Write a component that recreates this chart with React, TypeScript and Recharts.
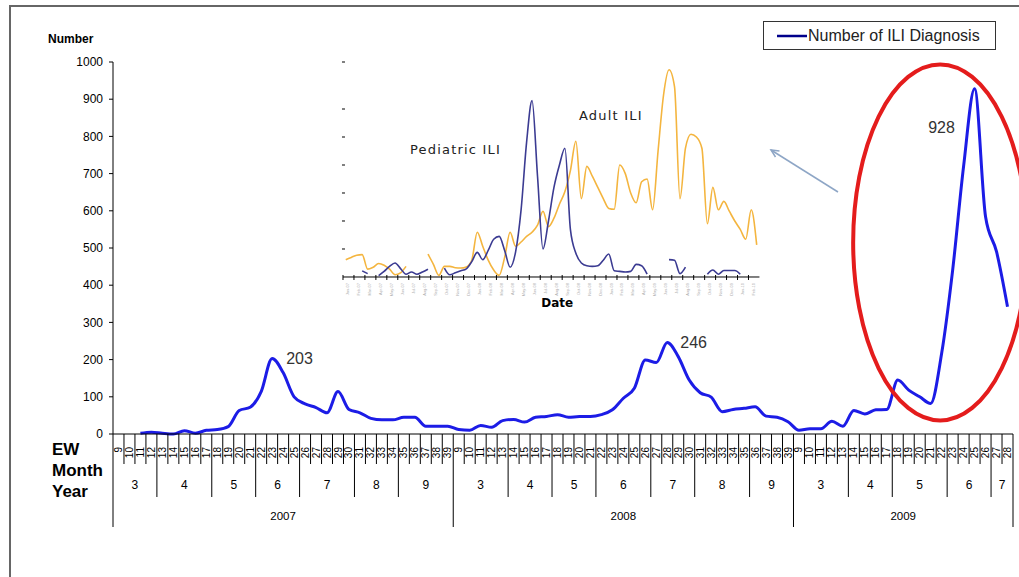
import React from 'react';
import { LineChart, Line, XAxis, YAxis, Legend, LabelList, ReferenceDot } from 'recharts';

// main chart: weekly ILI diagnoses, EW 9-39 (2007, 2008) and EW 9-28 (2009)
const years = ['2007', '2008', '2009'];
const weeks2007 = [9, 10, 11, 12, 13, 14, 15, 16, 17, 18, 19, 20, 21, 22, 23, 24, 25, 26, 27, 28, 29, 30, 31, 32, 33, 34, 35, 36, 37, 38, 39];
const weeks2008 = [9, 10, 11, 12, 13, 14, 15, 16, 17, 18, 19, 20, 21, 22, 23, 24, 25, 26, 27, 28, 29, 30, 31, 32, 33, 34, 35, 36, 37, 38, 39];
const weeks2009 = [9, 10, 11, 12, 13, 14, 15, 16, 17, 18, 19, 20, 21, 22, 23, 24, 25, 26, 27, 28];

const ili2007 = [null, null, 2, 5, 2, 0, 9, 2, 10, 12, 20, 63, 72, 114, 203, 165, 100, 81, 71, 57, 114, 66, 57, 42, 38, 38, 45, 45, 21, 21, 21];
const ili2008 = [12, 10, 23, 18, 36, 39, 32, 45, 47, 52, 45, 47, 47, 52, 65, 96, 123, 199, 192, 246, 208, 145, 111, 99, 60, 66, 69, 73, 48, 45, 33];
const ili2009 = [10, 14, 14, 34, 21, 63, 54, 65, 66, 145, 118, 100, 82, 217, 440, 720, 928, 584, 490, 342];

const months2007 = ['3', '4', '5', '6', '7', '8', '9'];
const monthLen2007 = [4, 5, 4, 4, 5, 4, 5];
const months2008 = ['3', '4', '5', '6', '7', '8', '9'];
const monthLen2008 = [5, 4, 4, 5, 4, 5, 4];
const months2009 = ['3', '4', '5', '6', '7'];
const monthLen2009 = [5, 4, 5, 4, 2];

const yTicks = [0, 100, 200, 300, 400, 500, 600, 700, 800, 900, 1000];

// inset: pediatric vs adult ILI (no scale shown)
const adultIli = [
  0.62, 0.7, 0.78, 0.8, 0.28, 0.35, 0.48, 0.42, 0.28, 0.08,
  0.15, 0.38, null, null, null, 0.82, 0.45, 0.06, 0.38, 0.38,
  0.33, 0.32, 0.36, 0.6, 1.6, 1.1, 0.6, 0.25, 0.06, 0.7,
  1.6, 1.1, 1.25, 1.45, 1.6, 1.85, 2.35, 1.8, 2.1, 2.6,
  3.05, 3.8, 4.85, 2.8, 3.95, 3.6, 3.2, 2.8, 2.45, 2.42,
  4.0, 3.7, 3.0, 2.65, 3.4, 3.5, 2.4, 4.5, 6.5, 7.4,
  6.8, 2.8, 4.6, 5.1, 5.0, 4.6, 1.9, 3.2, 2.4, 2.7,
  2.35, 2.0, 1.7, 1.35, 2.4, 1.15,
];
const pediatricIli = [
  null, null, null, 0.22, 0.12, null, 0.05, 0.2, 0.38, 0.5,
  0.3, 0.1, 0.18, 0.1, 0.18, 0.28, null, null, 0.32, 0.08,
  0.15, 0.22, 0.29, 0.55, 0.88, 0.62, 0.95, 1.35, 1.45, 0.95,
  0.35, 0.9, 2.4, 4.8, 6.3, 3.6, 1.0, 2.0, 3.2, 4.0,
  4.6, 1.7, 0.85, 0.5, 0.4, 0.38, 0.4, 0.6, 0.82, 0.22,
  0.2, 0.18, 0.2, 0.45, 0.4, 0.1, null, null, null, 0.62,
  0.6, 0.12, 0.35, null, null, null, 0.1, 0.25, 0.1, 0.23,
  0.23, 0.23, 0.1, null, null, null,
];
const insetDates = [
  'Jan-07', 'Feb-07', 'Mar-07', 'Apr-07', 'May-07', 'Jun-07', 'Jul-07', 'Aug-07', 'Sep-07', 'Oct-07',
  'Nov-07', 'Dec-07', 'Jan-08', 'Feb-08', 'Mar-08', 'Apr-08', 'May-08', 'Jun-08', 'Jul-08', 'Aug-08',
  'Sep-08', 'Oct-08', 'Nov-08', 'Dec-08', 'Jan-09', 'Feb-09', 'Mar-09', 'Apr-09', 'May-09', 'Jun-09',
  'Jul-09', 'Aug-09', 'Sep-09', 'Oct-09', 'Nov-09', 'Dec-09', 'Jan-10', 'Feb-10',
];
const insetTicks = [1, 2, 3, 4, 5, 6, 7, 8];

type Row = {
  key: string; ew: number; ili: number | null; year: string;
  yearStart: boolean; yearLen: number; monthStart: boolean; month: string; monthLen: number;
};

const seasons = [
  { year: years[0], weeks: weeks2007, ili: ili2007, months: months2007, lens: monthLen2007 },
  { year: years[1], weeks: weeks2008, ili: ili2008, months: months2008, lens: monthLen2008 },
  { year: years[2], weeks: weeks2009, ili: ili2009, months: months2009, lens: monthLen2009 },
];

const data: Row[] = [];
seasons.forEach((s) => {
  let m = 0;
  let start = 0;
  s.weeks.forEach((wk, i) => {
    if (i >= start + s.lens[m]) {
      start += s.lens[m];
      m += 1;
    }
    data.push({
      key: `${s.year}-${wk}`,
      ew: wk,
      ili: s.ili[i],
      year: s.year,
      yearStart: i === 0,
      yearLen: s.weeks.length,
      monthStart: i === start,
      month: s.months[m],
      monthLen: s.lens[m],
    });
  });
});

const insetData = adultIli.map((a, i) => ({ i, adult: a, pediatric: pediatricIli[i] }));

const peakNotes: Record<string, { dx: number; dy: number; anchor: string }> = {
  '2007-23': { dx: 14, dy: 6, anchor: 'start' },
  '2008-28': { dx: 13, dy: 6, anchor: 'start' },
  '2009-25': { dx: -33, dy: 44, anchor: 'middle' },
};

const W = 1019;
const H = 577;
const PLOT_LEFT = 113;
const PLOT_RIGHT = 1013;
const sans = '"Liberation Sans", Arial, sans-serif';

const EwTick = (props: any) => {
  const { x, y, payload } = props;
  const i: number = props.index ?? payload?.index;
  const row = data[i];
  if (!row) return null;
  const band = payload?.offset ? payload.offset * 2 : (PLOT_RIGHT - PLOT_LEFT) / data.length;
  const left = x - band / 2;
  const drop = row.yearStart ? 93 : row.monthStart ? 63 : 30;
  return (
    <g fontFamily={sans} fill="#000">
      <line x1={left} y1={y} x2={left} y2={y + drop} stroke="#000" strokeWidth={1} />
      <text transform={`translate(${x + 3.5},${y + 13}) rotate(-90)`} textAnchor="end" fontSize={10}>
        {row.ew}
      </text>
      {row.monthStart && (
        <text x={left + (row.monthLen * band) / 2} y={y + 55} textAnchor="middle" fontSize={12}>
          {row.month}
        </text>
      )}
      {row.yearStart && (
        <text x={left + (row.yearLen * band) / 2} y={y + 86} textAnchor="middle" fontSize={11.5}>
          {row.year}
        </text>
      )}
      {i === data.length - 1 && (
        <line x1={left + band} y1={y} x2={left + band} y2={y + 93} stroke="#000" strokeWidth={1} />
      )}
    </g>
  );
};

const PeakLabel = (props: any) => {
  const { x, y, value, index } = props;
  const row = data[index];
  const note = row && peakNotes[row.key];
  if (!note || x == null) return null;
  return (
    <text x={x + note.dx} y={y + note.dy} textAnchor={note.anchor} fontSize={16} fontFamily={sans} fill="#333">
      {value}
    </text>
  );
};

const LegendBox = () => (
  <div
    style={{
      border: '1px solid #333',
      height: 27,
      display: 'flex',
      alignItems: 'center',
      background: '#fff',
      fontFamily: sans,
      fontSize: 16,
      color: '#222',
      whiteSpace: 'nowrap',
    }}
  >
    <svg width={44} height={10}>
      <line x1={13} y1={5} x2={43} y2={5} stroke="#00008b" strokeWidth={2.5} />
    </svg>
    <span>Number of ILI Diagnosis</span>
  </div>
);

const InsetXTick = (props: any) => {
  const { x, y, payload } = props;
  const half = payload?.offset ?? 2.74;
  const left = x - half;
  const label = insetDates[Math.floor((payload?.value ?? 0) / 2)] ?? '';
  return (
    <g>
      <line x1={left} y1={y - 2} x2={left} y2={y + 3} stroke="#000" strokeWidth={1} />
      <text
        transform={`translate(${left + 6.5},${y + 6}) rotate(-90)`}
        textAnchor="end"
        fontSize={4}
        fill="#b0b0b0"
        fontFamily={sans}
      >
        {label}
      </text>
    </g>
  );
};

const InsetYTick = (props: any) => {
  const { x, y } = props;
  return <line x1={x - 1} y1={y} x2={x + 2} y2={y} stroke="#000" strokeWidth={1} />;
};

const Inset = () => (
  <div style={{ position: 'absolute', left: 333.26, top: 53.3 }}>
    <LineChart width={430.44} height={258} data={insetData} margin={{ top: 0, right: 4, bottom: 0, left: 0 }}>
      <YAxis
        width={10}
        domain={[0, 8]}
        ticks={insetTicks}
        axisLine={false}
        tickLine={false}
        tickSize={0}
        tickMargin={0}
        tick={<InsetYTick />}
      />
      <XAxis
        dataKey="i"
        scale="band"
        height={34}
        interval={1}
        tickSize={0}
        tickMargin={0}
        tickLine={false}
        axisLine={{ stroke: '#000', strokeWidth: 1 }}
        tick={<InsetXTick />}
        label={{
          value: 'Date',
          position: 'insideBottom',
          offset: 4,
          dx: 6,
          fontSize: 12,
          fontWeight: 'bold',
          fill: '#000',
          fontFamily: '"DejaVu Sans", sans-serif',
        }}
      />
      <Line
        dataKey="adult"
        type="monotone"
        stroke="#f4b53f"
        strokeWidth={1.6}
        dot={false}
        connectNulls={false}
        isAnimationActive={false}
      />
      <Line
        dataKey="pediatric"
        type="monotone"
        stroke="#3b3b92"
        strokeWidth={1.6}
        dot={false}
        connectNulls={false}
        isAnimationActive={false}
      />
    </LineChart>
  </div>
);

export default function App() {
  return (
    <div style={{ position: 'absolute', left: 0, top: 0, width: W, height: H, background: '#fff', overflow: 'hidden' }}>
      <LineChart width={W} height={H} data={data} margin={{ top: 62, right: W - PLOT_RIGHT, bottom: 43, left: 53 }}>
        <YAxis
          width={60}
          domain={[0, 1000]}
          ticks={yTicks}
          interval={0}
          axisLine={{ stroke: '#000' }}
          tickLine={{ stroke: '#000' }}
          tickSize={4}
          tickMargin={6}
          tick={{ fontSize: 12, fill: '#000', fontFamily: sans }}
        />
        <XAxis
          dataKey="key"
          scale="band"
          height={100}
          interval={0}
          tickSize={0}
          tickMargin={0}
          tickLine={false}
          axisLine={{ stroke: '#000' }}
          tick={<EwTick />}
        />
        <Legend
          layout="horizontal"
          verticalAlign="middle"
          align="center"
          wrapperStyle={{ left: 763, top: 21, width: 233, height: 29 }}
          content={<LegendBox />}
        />
        <Line
          dataKey="ili"
          name="Number of ILI Diagnosis"
          type="monotone"
          stroke="#1c1ce6"
          strokeWidth={3}
          dot={false}
          connectNulls={false}
          isAnimationActive={false}
        >
          <LabelList dataKey="ili" content={<PeakLabel />} />
        </Line>
        <ReferenceDot
          x="2009-22"
          y={515}
          ifOverflow="visible"
          shape={(p: any) => (
            <ellipse cx={p.cx - 1.5} cy={p.cy} rx={87} ry={178} fill="none" stroke="#e41c1c" strokeWidth={4} />
          )}
        />
      </LineChart>

      <Inset />

      <svg width={W} height={H} style={{ position: 'absolute', left: 0, top: 0, pointerEvents: 'none' }}>
        <path d={`M10,${H} L10,6 L${W},6`} fill="none" stroke="#666" strokeWidth={2} />
        <text x={48} y={43} fontSize={12} fontWeight="bold" fontFamily={sans} fill="#000">Number</text>
        <g fontFamily={sans} fontWeight="bold" fontSize={17} fill="#000">
          <text x={52} y={455}>EW</text>
          <text x={52} y={476}>Month</text>
          <text x={52} y={497}>Year</text>
        </g>
        <g fontFamily='"DejaVu Sans", sans-serif' fontSize={13} fill="#222" letterSpacing={1.2}>
          <text x={410} y={154}>Pediatric ILI</text>
          <text x={579} y={120}>Adult ILI</text>
        </g>
        <g stroke="#8ea6c6" strokeWidth={1.5} fill="none">
          <line x1={838} y1={192} x2={771} y2={150} />
          <polyline points="775.5,157 771,150 779.5,151" />
        </g>
      </svg>
    </div>
  );
}
